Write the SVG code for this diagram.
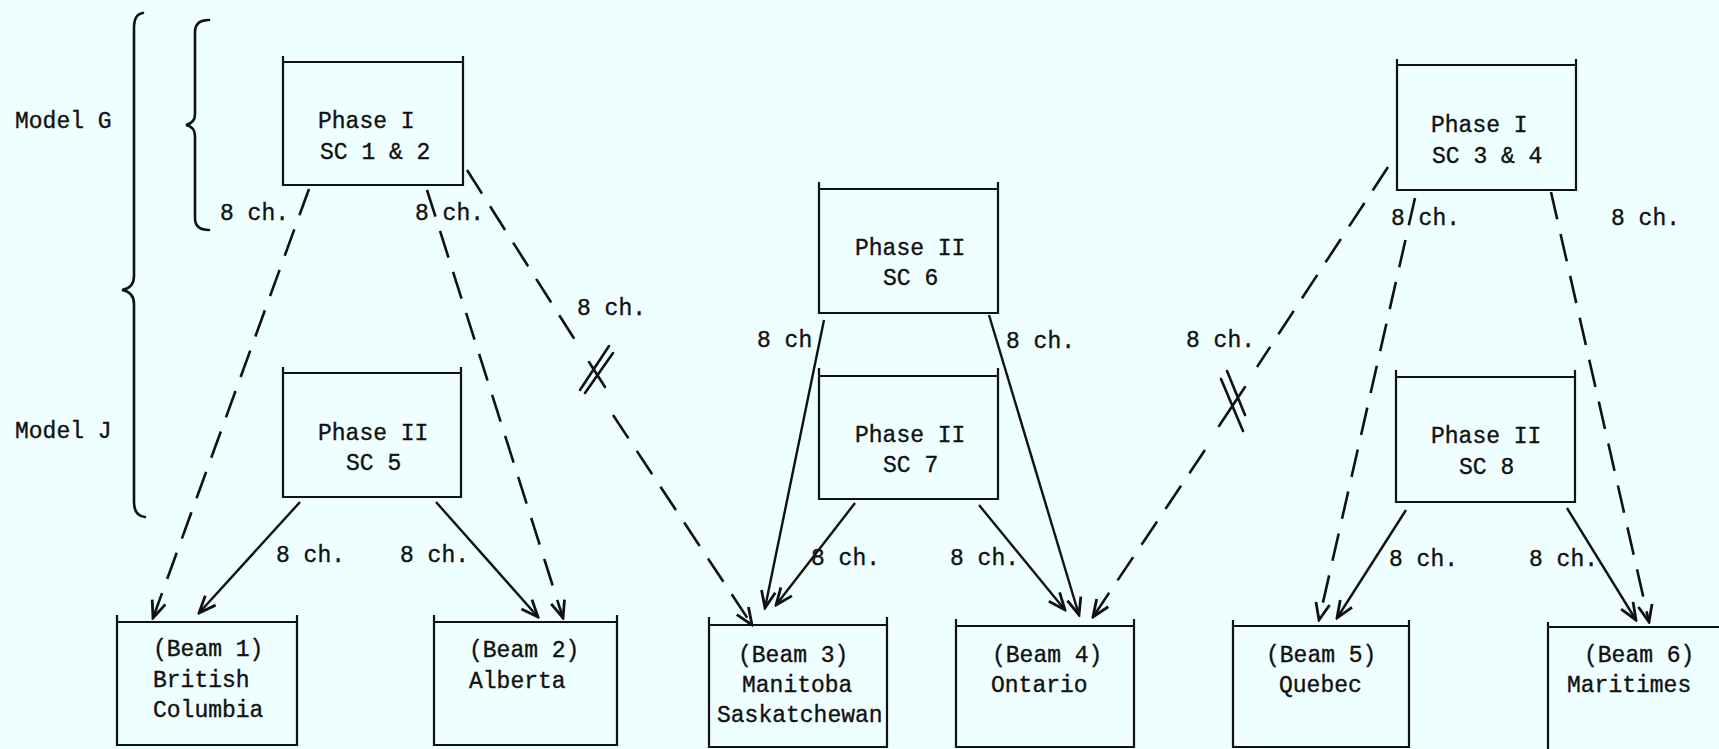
<svg xmlns="http://www.w3.org/2000/svg" width="1719" height="749" viewBox="0 0 1719 749">
<style>
  text { font-family: "Liberation Mono", "Courier New", monospace; font-size: 23px; fill: #111; stroke: #111; stroke-width: 0.35; }
  .box { fill: none; stroke: #111; stroke-width: 2.2; }
  .brace { fill: none; stroke: #111; stroke-width: 2.6; stroke-linecap: round; }
  .dash { fill: none; stroke: #111; stroke-width: 2.6; stroke-dasharray: 28 15; }
  .solid { fill: none; stroke: #111; stroke-width: 2.4; }
  .mark { fill: none; stroke: #111; stroke-width: 2.6; stroke-linecap: round; }
</style>
<defs>
  <marker id="arr" markerUnits="userSpaceOnUse" viewBox="-20 -10 22 20" refX="0" refY="0" markerWidth="22" markerHeight="20" orient="auto">
    <path d="M-17,-7 L0,0 L-17,7" fill="none" stroke="#111" stroke-width="2.8" stroke-dasharray="none" stroke-linejoin="miter"/>
  </marker>
</defs>
<rect x="0" y="0" width="1719" height="749" fill="#effefe"/>

<g id="brackets">
  <path class="brace" d="M143,13 Q134,14 134,28 L134,276 Q134,288 122,290 Q134,292 134,304 L134,502 Q134,516 145,517"/>
  <path class="brace" d="M209,20 Q195,20 195,32 L195,114 Q195,123 186,125 Q195,127 195,136 L195,218 Q195,230 209,230"/>
  <text x="15" y="128">Model G</text>
  <text x="15" y="438">Model J</text>
</g>

<g id="sc12">
  <path class="box" d="M283,56 V185 H463 V56 M283,62 H463"/>
  <text x="318" y="128">Phase I</text>
  <text x="320" y="159">SC 1 &amp; 2</text>
</g>
<g id="sc5">
  <path class="box" d="M283,367 V497 H461 V367 M283,373 H461"/>
  <text x="318" y="440">Phase II</text>
  <text x="346" y="470">SC 5</text>
</g>
<g id="sc6">
  <path class="box" d="M819,182 V313 H998 V182 M819,189 H998"/>
  <text x="855" y="255">Phase II</text>
  <text x="883" y="285">SC 6</text>
</g>
<g id="sc7">
  <path class="box" d="M819,368 V499 H998 V368 M819,376 H998"/>
  <text x="855" y="442">Phase II</text>
  <text x="883" y="472">SC 7</text>
</g>
<g id="sc34">
  <path class="box" d="M1397,59 V190 H1576 V59 M1397,65 H1576"/>
  <text x="1431" y="132">Phase I</text>
  <text x="1432" y="163">SC 3 &amp; 4</text>
</g>
<g id="sc8">
  <path class="box" d="M1396,370 V502 H1575 V370 M1396,377 H1575"/>
  <text x="1431" y="443">Phase II</text>
  <text x="1459" y="474">SC 8</text>
</g>

<g id="beam1">
  <path class="box" d="M117,615 V745 H297 V615 M117,622 H297"/>
  <text x="153" y="656">(Beam 1)</text>
  <text x="153" y="687">British</text>
  <text x="153" y="717">Columbia</text>
</g>
<g id="beam2">
  <path class="box" d="M434,615 V745 H617 V615 M434,622 H617"/>
  <text x="469" y="657">(Beam 2)</text>
  <text x="469" y="688">Alberta</text>
</g>
<g id="beam3">
  <path class="box" d="M709,617 V747 H887 V617 M709,625 H887"/>
  <text x="738" y="662">(Beam 3)</text>
  <text x="742" y="692">Manitoba</text>
  <text x="717" y="722">Saskatchewan</text>
</g>
<g id="beam4">
  <path class="box" d="M956,619 V747 H1134 V619 M956,626 H1134"/>
  <text x="992" y="662">(Beam 4)</text>
  <text x="991" y="692">Ontario</text>
</g>
<g id="beam5">
  <path class="box" d="M1233,620 V747 H1409 V620 M1233,626 H1409"/>
  <text x="1266" y="662">(Beam 5)</text>
  <text x="1279" y="692">Quebec</text>
</g>
<g id="beam6">
  <path class="box" d="M1548,622 V760 M1548,627 H1730"/>
  <text x="1584" y="662">(Beam 6)</text>
  <text x="1567" y="692">Maritimes</text>
</g>

<g id="connectors">
  <path class="dash" d="M309,189 L153,618" marker-end="url(#arr)"/>
  <path class="dash" d="M427,190 L563,618" marker-end="url(#arr)"/>
  <path class="dash" d="M467,170 L575,340"/>
  <path class="mark" d="M589,362 L605,387 M580,390 L609,346 M585,393 L613,353"/>
  <path class="dash" d="M613,415 L752,625" marker-end="url(#arr)"/>
  <path class="dash" d="M1388,167 L1257,367"/>
  <path class="mark" d="M1219,426 L1245,387 M1221,379 L1243,431 M1227,371 L1245,415"/>
  <path class="dash" d="M1205,450 L1093,617" marker-end="url(#arr)"/>
  <path class="dash" d="M1415,198 L1319,620" marker-end="url(#arr)"/>
  <path class="dash" d="M1551,192 L1649,622" marker-end="url(#arr)"/>

  <path class="solid" d="M300,502 L199,613" marker-end="url(#arr)"/>
  <path class="solid" d="M436,502 L538,617" marker-end="url(#arr)"/>
  <path class="solid" d="M824,320 L765,608" marker-end="url(#arr)"/>
  <path class="solid" d="M989,315 L1079,615" marker-end="url(#arr)"/>
  <path class="solid" d="M855,503 L776,605" marker-end="url(#arr)"/>
  <path class="solid" d="M979,505 L1065,610" marker-end="url(#arr)"/>
  <path class="solid" d="M1406,510 L1337,618" marker-end="url(#arr)"/>
  <path class="solid" d="M1567,508 L1636,620" marker-end="url(#arr)"/>

  <text x="220" y="220">8 ch.</text>
  <text x="415" y="220">8 ch.</text>
  <text x="577" y="315">8 ch.</text>
  <text x="276" y="562">8 ch.</text>
  <text x="400" y="562">8 ch.</text>
  <text x="757" y="347">8 ch</text>
  <text x="1006" y="348">8 ch.</text>
  <text x="811" y="565">8 ch.</text>
  <text x="950" y="565">8 ch.</text>
  <text x="1391" y="225">8 ch.</text>
  <text x="1611" y="225">8 ch.</text>
  <text x="1186" y="347">8 ch.</text>
  <text x="1389" y="566">8 ch.</text>
  <text x="1529" y="566">8 ch.</text>
</g>
</svg>
